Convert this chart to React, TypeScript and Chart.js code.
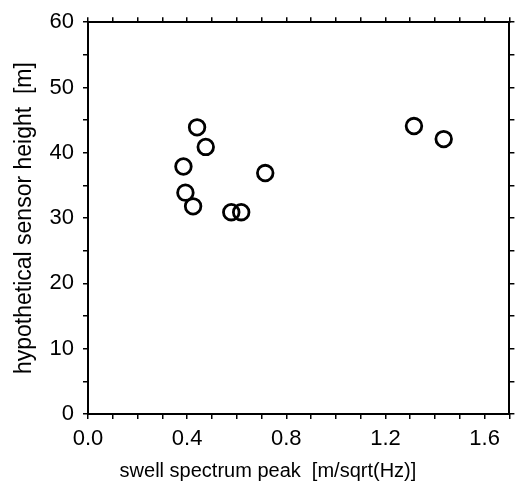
import { useEffect, useRef } from 'react';
import { Chart, registerables, type ChartConfiguration, type Plugin } from 'chart.js';

Chart.register(...registerables);

// values
const SWELL_PEAK = [0.44, 0.475, 0.385, 0.393, 0.424, 0.578, 0.618, 0.715, 1.315, 1.435];
const SENSOR_HEIGHT = [43.9, 40.9, 37.9, 33.9, 31.8, 30.9, 30.9, 36.9, 44.1, 42.1];

const X_TICKS = [0, 0.1, 0.2, 0.3, 0.4, 0.5, 0.6, 0.7, 0.8, 0.9, 1.0, 1.1, 1.2, 1.3, 1.4, 1.5, 1.6, 1.7];
const X_LABELS = ['0.0', '0.4', '0.8', '1.2', '1.6'];
const Y_TICKS = [0, 5, 10, 15, 20, 25, 30, 35, 40, 45, 50, 55, 60];
const Y_LABELS = ['0', '10', '20', '30', '40', '50', '60'];

const X_TITLE = 'swell spectrum peak  [m/sqrt(Hz)]';
const Y_TITLE = 'hypothetical sensor height  [m]';

const FONT = '"Liberation Sans", Arial, Helvetica, sans-serif';

export default function App() {
  const canvasRef = useRef<HTMLCanvasElement>(null);

  useEffect(() => {
    const canvas = canvasRef.current;
    if (!canvas) return;

    const xLabelOf = (v: number) => {
      const s = v.toFixed(1);
      return X_LABELS.includes(s) ? s : '';
    };
    const yLabelOf = (v: number) => {
      const s = String(Math.round(v));
      return Y_LABELS.includes(s) ? s : '';
    };

    // x title sits left of the plot centre in the original, so draw it by hand
    const xTitlePlugin: Plugin = {
      id: 'xTitle',
      afterDraw(c) {
        const area = c.chartArea;
        const ctx = c.ctx;
        ctx.save();
        ctx.font = '20px ' + FONT;
        ctx.fillStyle = '#000';
        ctx.textAlign = 'center';
        ctx.textBaseline = 'middle';
        ctx.fillText(X_TITLE, area.left + area.width * 0.427, area.bottom + 57);
        ctx.restore();
      },
    };

    const edgeGrid = {
      display: true,
      drawOnChartArea: false,
      drawTicks: true,
      tickLength: 5,
      color: '#000',
      lineWidth: 1.5,
    };
    const edgeBorder = { display: true, color: '#000', width: 2 };

    const config: ChartConfiguration<'scatter'> = {
      type: 'scatter',
      data: {
        datasets: [
          {
            data: SWELL_PEAK.map((x, i) => ({ x, y: SENSOR_HEIGHT[i] })),
            pointRadius: 7.8,
            pointHoverRadius: 7.8,
            borderWidth: 2.8,
            pointBorderColor: '#000',
            pointBackgroundColor: 'rgba(0,0,0,0)',
          },
        ],
      },
      options: {
        responsive: true,
        maintainAspectRatio: false,
        animation: false,
        events: [],
        layout: { padding: 0 },
        plugins: { legend: { display: false }, tooltip: { enabled: false } },
        scales: {
          x: {
            type: 'linear',
            position: 'bottom',
            min: 0,
            max: 1.7,
            afterBuildTicks: (s) => {
              s.ticks = X_TICKS.map((value) => ({ value }));
            },
            afterFit: (s) => {
              s.height = 77;
            },
            ticks: {
              autoSkip: false,
              maxRotation: 0,
              padding: 7,
              color: '#000',
              font: { family: FONT, size: 22 },
              callback: (v) => xLabelOf(Number(v)),
            },
            grid: edgeGrid,
            border: edgeBorder,
          },
          x2: {
            type: 'linear',
            position: 'top',
            min: 0,
            max: 1.7,
            afterBuildTicks: (s) => {
              s.ticks = X_TICKS.map((value) => ({ value }));
            },
            afterFit: (s) => {
              s.height = 15;
            },
            ticks: { display: false },
            grid: edgeGrid,
            border: edgeBorder,
          },
          y: {
            type: 'linear',
            position: 'left',
            min: 0,
            max: 60,
            afterBuildTicks: (s) => {
              s.ticks = Y_TICKS.map((value) => ({ value }));
            },
            afterFit: (s) => {
              s.width = 88;
            },
            ticks: {
              autoSkip: false,
              padding: 9,
              color: '#000',
              font: { family: FONT, size: 22 },
              callback: (v) => yLabelOf(Number(v)),
            },
            title: {
              display: true,
              text: Y_TITLE,
              color: '#000',
              font: { family: FONT, size: 23 },
              padding: { top: 11, bottom: 0 },
            },
            grid: edgeGrid,
            border: edgeBorder,
          },
          y2: {
            type: 'linear',
            position: 'right',
            min: 0,
            max: 60,
            afterBuildTicks: (s) => {
              s.ticks = Y_TICKS.map((value) => ({ value }));
            },
            afterFit: (s) => {
              s.width = 6;
            },
            ticks: { display: false },
            grid: edgeGrid,
            border: edgeBorder,
          },
        },
      },
      plugins: [xTitlePlugin],
    };

    const chart = new Chart(canvas, config);
    return () => {
      chart.destroy();
    };
  }, []);

  return (
    <div style={{ position: 'absolute', left: 0, top: 0, width: 520, height: 491, background: '#fff' }}>
      <canvas ref={canvasRef} />
    </div>
  );
}
